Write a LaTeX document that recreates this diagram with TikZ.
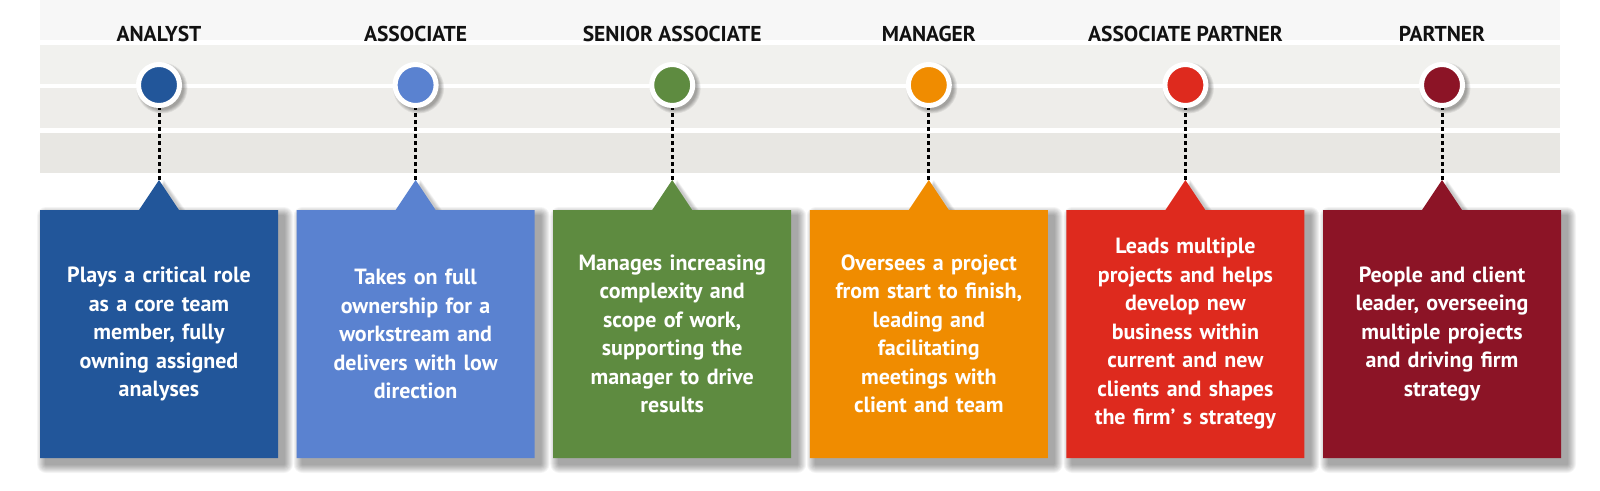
\documentclass[tikz,border=0pt]{standalone}
\usepackage{fontspec}
\setmainfont{PT Sans}
\usetikzlibrary{calc}
\definecolor{cAn}{HTML}{22569A}
\definecolor{cAs}{HTML}{5A82D0}
\definecolor{cSe}{HTML}{5E8B40}
\definecolor{cMa}{HTML}{F08C00}
\definecolor{cAp}{HTML}{DE2A1E}
\definecolor{cPa}{HTML}{8C1426}
\definecolor{bandA}{HTML}{F7F7F7}
\definecolor{bandB}{HTML}{F1F1EE}
\definecolor{bandC}{HTML}{EEEDEA}
\definecolor{bandD}{HTML}{E8E7E3}
\definecolor{titlecol}{HTML}{111111}
\tikzset{
  titlelbl/.style={anchor=base, text=titlecol, font=\bfseries\fontsize{21.5}{24}\selectfont, inner sep=0pt},
  dotnode/.style={circle, draw=white, line width=5pt, minimum size=41pt, inner sep=0pt},
  descbox/.style={rectangle, minimum width=238pt, minimum height=248pt, text width=226pt,
    align=center, text=white, inner sep=0pt, font=\bfseries\fontsize{22}{28.5}\selectfont},
  softshade/.style={black, opacity=0.045},
  dotline/.style={line width=3pt, dash pattern=on 4pt off 3pt, black},
}
% #1 name, #2 x centre, #3 colour, #4 title, #5 text
\newcommand{\careerstage}[5]{%
  % soft shadow of the callout box
  \foreach \k in {1,...,9}{
    \fill[softshade, rounded corners=\k pt]
      ($(#2,334)+(-119+6-\k,-124+6-\k)$) rectangle ($(#2,334)+(119+6+\k,124+6+\k)$);
  }
  \foreach \k in {1,...,5}{
    \fill[softshade] ($(#2,334)+(-20-\k+5,-124+5)$) -- ($(#2,334)+(5,-154+5-\k)$) -- ($(#2,334)+(20+\k+5,-124+5)$) -- cycle;
  }
  % callout box
  \fill[#3] ($(#2,334)+(-119,-124)$) -- ($(#2,334)+(-20,-124)$) -- ($(#2,334)+(0,-154)$)
    -- ($(#2,334)+(20,-124)$) -- ($(#2,334)+(119,-124)$) -- ($(#2,334)+(119,124)$)
    -- ($(#2,334)+(-119,124)$) -- cycle;
  \node[descbox] (b#1) at (#2,334) {#5};
  \coordinate (a#1) at ($(b#1.north)+(0,-30)$);
  % title and marker
  \node[titlelbl] (t#1) at (#2,41.5) {#4};
  \foreach \k in {1,...,5}{
    \fill[black, opacity=0.07] ($(#2,85)+(3,3)$) circle ({21+\k*0.9});
  }
  \coordinate (m#1) at (#2,85);
  \draw[dotline] (m#1) -- (a#1);
  \node[dotnode, fill=#3] (c#1) at (m#1) {};
}
\begin{document}
\begin{tikzpicture}[x=1pt,y=-1pt]
\useasboundingbox (0,0) rectangle (1600,490);
\fill[white] (0,0) rectangle (1600,490);
\fill[bandA] (40,0) rectangle (1560,40);
\fill[bandB] (40,45) rectangle (1560,84);
\fill[bandC] (40,88) rectangle (1560,128);
\fill[bandD] (40,133) rectangle (1560,173);
\careerstage{1}{159}{cAn}{ANALYST}{Plays a critical role\\as a core team\\member, fully\\owning assigned\\analyses}
\careerstage{2}{415.6}{cAs}{ASSOCIATE}{Takes on full\\ownership for a\\workstream and\\delivers with low\\direction}
\careerstage{3}{672.2}{cSe}{SENIOR ASSOCIATE}{Manages increasing\\complexity and\\scope of work,\\supporting the\\manager to drive\\results}
\careerstage{4}{928.8}{cMa}{MANAGER}{Oversees a project\\from start to finish,\\leading and\\facilitating\\meetings with\\client and team}
\careerstage{5}{1185.4}{cAp}{ASSOCIATE PARTNER}{Leads multiple\\projects and helps\\develop new\\business within\\current and new\\clients and shapes\\the firm’ s strategy}
\careerstage{6}{1442}{cPa}{PARTNER}{People and client\\leader, overseeing\\multiple projects\\and driving firm\\strategy}
\end{tikzpicture}
\end{document}
